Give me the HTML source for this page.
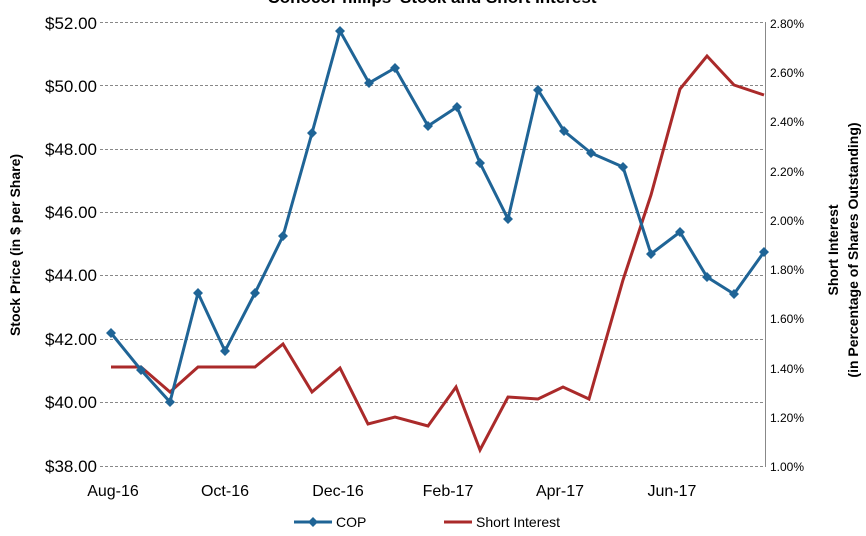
<!DOCTYPE html>
<html><head><meta charset="utf-8"><style>
body{margin:0;background:#fff;}
svg{display:block;font-family:"Liberation Sans",Arial,sans-serif;}
</style></head><body>
<svg width="866" height="536" viewBox="0 0 866 536" xmlns="http://www.w3.org/2000/svg">
<text x="432" y="3" text-anchor="middle" font-size="17" font-weight="bold" fill="#000">ConocoPhillips' Stock and Short Interest</text>
<g stroke="#888" stroke-dasharray="3,2" stroke-width="1">
<line x1="100" x2="765" y1="22.5" y2="22.5"/>
<line x1="100" x2="765" y1="85.5" y2="85.5"/>
<line x1="100" x2="765" y1="149.5" y2="149.5"/>
<line x1="100" x2="765" y1="212.5" y2="212.5"/>
<line x1="100" x2="765" y1="275.5" y2="275.5"/>
<line x1="100" x2="765" y1="339.5" y2="339.5"/>
<line x1="100" x2="765" y1="402.5" y2="402.5"/>
<line x1="100" x2="765" y1="466.5" y2="466.5"/>
</g>
<line x1="765.5" x2="765.5" y1="22" y2="467" stroke="#888"/>
<g font-size="17" fill="#000" text-anchor="end">
<text x="97" y="29">$52.00</text><text x="97" y="92">$50.00</text><text x="97" y="155">$48.00</text><text x="97" y="218">$46.00</text><text x="97" y="281">$44.00</text><text x="97" y="345">$42.00</text><text x="97" y="408">$40.00</text><text x="97" y="472">$38.00</text>
</g>
<g font-size="12" fill="#000">
<text x="770" y="28">2.80%</text><text x="770" y="77">2.60%</text><text x="770" y="126">2.40%</text><text x="770" y="176">2.20%</text><text x="770" y="225">2.00%</text><text x="770" y="274">1.80%</text><text x="770" y="323">1.60%</text><text x="770" y="373">1.40%</text><text x="770" y="422">1.20%</text><text x="770" y="471">1.00%</text>
</g>
<g font-size="16" fill="#000" text-anchor="middle">
<text x="113" y="496">Aug-16</text><text x="225" y="496">Oct-16</text><text x="338" y="496">Dec-16</text><text x="448" y="496">Feb-17</text><text x="560" y="496">Apr-17</text><text x="672" y="496">Jun-17</text>
</g>
<text transform="translate(20,245) rotate(-90)" text-anchor="middle" font-size="14" font-weight="bold">Stock Price (in $ per Share)</text>
<text transform="translate(838,250) rotate(-90)" text-anchor="middle" font-size="14" font-weight="bold">Short Interest</text>
<text transform="translate(858,250) rotate(-90)" text-anchor="middle" font-size="14" font-weight="bold">(in Percentage of Shares Outstanding)</text>
<polyline fill="none" stroke="#aa2a2a" stroke-width="3" points="111,367 141,367 170,392 198,367 225,367 255,367 283,344 312,392 340,368 368,424 395,417 428,426 456,387 480,450 508,397 538,399 563,387 589,399 623,280 651,195 680,89 707,56 734,85 764,95"/>
<polyline fill="none" stroke="#1f6496" stroke-width="3" points="111,333 141,370 170,402 198,293 225,351 255,293 283,236 312,133 340,31 369,83 395,68 428,126 457,107 480,163 508,219 538,90 564,131 591,153 623,167 651,254 680,232 707,277 734,294 764,252"/>
<g fill="#1f6496">
<path d="M111,328l5,5l-5,5l-5,-5zM141,365l5,5l-5,5l-5,-5zM170,397l5,5l-5,5l-5,-5zM198,288l5,5l-5,5l-5,-5zM225,346l5,5l-5,5l-5,-5zM255,288l5,5l-5,5l-5,-5zM283,231l5,5l-5,5l-5,-5zM312,128l5,5l-5,5l-5,-5zM340,26l5,5l-5,5l-5,-5zM369,78l5,5l-5,5l-5,-5zM395,63l5,5l-5,5l-5,-5zM428,121l5,5l-5,5l-5,-5zM457,102l5,5l-5,5l-5,-5zM480,158l5,5l-5,5l-5,-5zM508,214l5,5l-5,5l-5,-5zM538,85l5,5l-5,5l-5,-5zM564,126l5,5l-5,5l-5,-5zM591,148l5,5l-5,5l-5,-5zM623,162l5,5l-5,5l-5,-5zM651,249l5,5l-5,5l-5,-5zM680,227l5,5l-5,5l-5,-5zM707,272l5,5l-5,5l-5,-5zM734,289l5,5l-5,5l-5,-5zM764,247l5,5l-5,5l-5,-5z"/>
</g>
<line x1="294" x2="332" y1="522" y2="522" stroke="#1f6496" stroke-width="3"/>
<path d="M313,517l5,5l-5,5l-5,-5z" fill="#1f6496"/>
<text x="336" y="527" font-size="14">COP</text>
<line x1="444" x2="472" y1="522" y2="522" stroke="#aa2a2a" stroke-width="3"/>
<text x="476" y="527" font-size="14">Short Interest</text>
</svg>
</body></html>
